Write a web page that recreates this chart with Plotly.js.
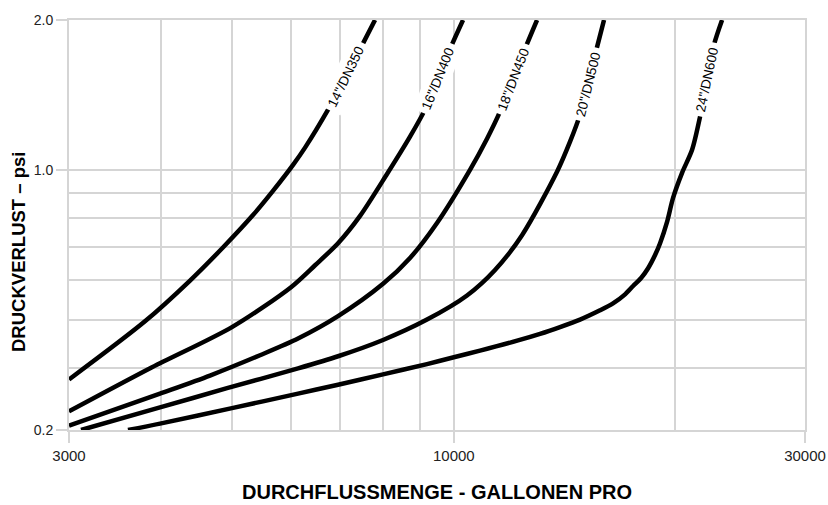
<!DOCTYPE html>
<html>
<head>
<meta charset="utf-8">
<script src="https://cdn.plot.ly/plotly-3.0.1.min.js"></script>
<style>html,body{margin:0;padding:0;background:#fff;}#chart{width:828px;height:505px;}</style>
</head>
<body>
<div id="chart"></div>
<script>
// Flow (US gallons per minute) vs pressure loss (psi)
const seriesNames = ['14"/DN350', '16"/DN400', '18"/DN450', '20"/DN500', '24"/DN600'];

const flow14 = [3000, 3805, 4381, 4856, 5335, 5679, 6047, 6278, 6747, 7137, 7527, 7815];
const loss14 = [0.379, 0.496, 0.599, 0.698, 0.811, 0.907, 1.023, 1.108, 1.321, 1.540, 1.795, 2.0];

const flow16 = [3000, 3890, 4995, 6009, 6478, 6961, 7457, 8114, 8719, 9137, 9517, 9943, 10292];
const loss16 = [0.327, 0.401, 0.483, 0.581, 0.643, 0.712, 0.808, 0.981, 1.166, 1.321, 1.526, 1.786, 2.0];

const flow18 = [3000, 3988, 4663, 5453, 6142, 6961, 8013, 8719, 9487, 10519, 11094, 11554, 12034, 12573, 12973];
const loss18 = [0.306, 0.355, 0.386, 0.424, 0.458, 0.508, 0.590, 0.665, 0.782, 1.0, 1.155, 1.309, 1.522, 1.791, 2.0];

const flow20 = [3115, 3988, 4918, 6142, 6961, 8013, 9195, 10421, 11375, 12378, 13810, 14384, 14841, 15217, 15652, 15998];
const loss20 = [0.3, 0.333, 0.364, 0.399, 0.422, 0.455, 0.500, 0.559, 0.629, 0.739, 0.991, 1.139, 1.291, 1.486, 1.764, 2.0];

const flow24 = [3608, 3988, 4995, 6142, 6961, 8013, 9195, 10000, 10853, 12224, 13095, 13940, 14841, 15799, 16455, 17087, 17521, 17965, 18363, 18767, 19064, 19486, 19855, 20422, 21072, 21605, 22084, 22572, 23145];
const loss24 = [0.3, 0.309, 0.332, 0.355, 0.370, 0.388, 0.407, 0.420, 0.433, 0.454, 0.468, 0.483, 0.500, 0.522, 0.539, 0.562, 0.584, 0.606, 0.634, 0.674, 0.712, 0.786, 0.878, 0.986, 1.097, 1.279, 1.519, 1.786, 2.0];

// tick labels
const xTickVals = [3000, 10000, 30000];
const xTickText = ['3000', '10000', '30000'];
const xMinorVals = [4000, 5000, 6000, 7000, 8000, 9000, 20000];
const yTickVals = [0.3, 1.0, 2.0];
const yTickText = ['0.2', '1.0', '2.0'];
const yMinorVals = [0.4, 0.5, 0.6, 0.7, 0.8, 0.9];

const xTitle = 'DURCHFLUSSMENGE - GALLONEN PRO';
const yTitle = 'DRUCKVERLUST – psi';

const allFlow = [flow14, flow16, flow18, flow20, flow24];
const allLoss = [loss14, loss16, loss18, loss20, loss24];
// each label sits on the third-from-last point of its curve
const labelAngles = [-64, -68, -69, -76, -78];

const GRID = '#d5d5d5';
const sans = '"Liberation Sans", Arial, sans-serif';

const traces = allFlow.map((fx, i) => ({
  type: 'scatter', mode: 'lines', name: seriesNames[i],
  x: fx, y: allLoss[i],
  line: {color: '#000', width: 4.5, shape: 'spline', smoothing: 0.8},
  hoverinfo: 'skip'
}));

const annotations = allFlow.map((fx, i) => {
  const k = fx.length - 3;
  return {
    xref: 'x', yref: 'y',
    x: Math.log10(fx[k]), y: Math.log10(allLoss[i][k]),
    text: seriesNames[i], showarrow: false, textangle: labelAngles[i],
    font: {family: sans, size: 13.5, color: '#000'},
    bgcolor: '#fff', borderpad: 4, xanchor: 'center', yanchor: 'middle'
  };
});
annotations.push({
  xref: 'paper', yref: 'paper', x: (18 - 69) / 736, y: (430 - 252) / 410,
  xanchor: 'center', yanchor: 'middle', showarrow: false, textangle: -90,
  text: '<b>' + yTitle + '</b>', font: {family: sans, size: 18.5, color: '#000'}
});

const layout = {
  width: 828, height: 505,
  margin: {l: 69, r: 23, t: 20, b: 75, pad: 0},
  paper_bgcolor: '#fff', plot_bgcolor: '#fff',
  showlegend: false,
  xaxis: {
    type: 'log', range: [Math.log10(3000), Math.log10(30000)],
    tickmode: 'array', tickvals: xTickVals, ticktext: xTickText,
    ticks: 'outside', ticklen: 11, tickwidth: 2, tickcolor: GRID,
    showgrid: true, gridcolor: GRID, gridwidth: 2,
    showline: true, linecolor: GRID, linewidth: 2, mirror: true,
    zeroline: false, automargin: false, ticklabeloverflow: 'allow',
    tickfont: {family: sans, size: 15, color: '#222'},
    minor: {tickmode: 'array', tickvals: xMinorVals, showgrid: true, gridcolor: GRID, gridwidth: 2, ticks: ''},
    title: {text: '<b>' + xTitle + '</b>', font: {family: sans, size: 20, color: '#000'}, standoff: 22}
  },
  yaxis: {
    type: 'log', range: [Math.log10(0.3), Math.log10(2.0)],
    tickmode: 'array', tickvals: yTickVals, ticktext: yTickText,
    ticks: 'outside', ticklen: 11, tickwidth: 2, tickcolor: GRID,
    showgrid: true, gridcolor: GRID, gridwidth: 2,
    showline: true, linecolor: GRID, linewidth: 2, mirror: true,
    zeroline: false, automargin: false, ticklabeloverflow: 'allow',
    tickfont: {family: sans, size: 14, color: '#222'},
    minor: {tickmode: 'array', tickvals: yMinorVals, showgrid: true, gridcolor: GRID, gridwidth: 2, ticks: ''}
  },
  annotations: annotations
};

Plotly.newPlot('chart', traces, layout, {staticPlot: true, displayModeBar: false});
</script>
</body>
</html>
